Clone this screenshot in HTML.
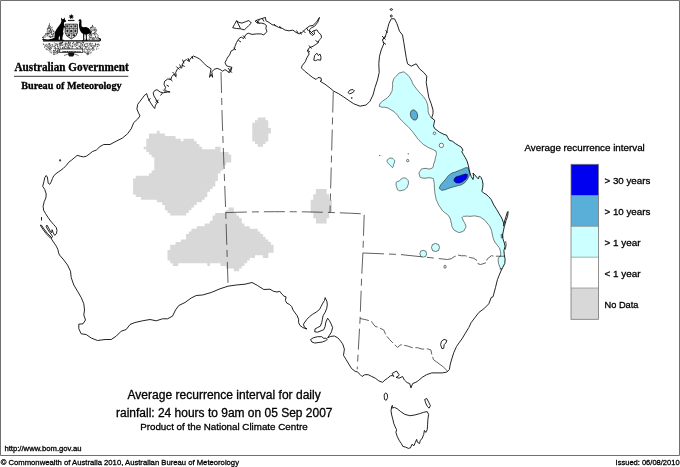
<!DOCTYPE html>
<html><head><meta charset="utf-8"><title>Average recurrence interval for daily rainfall</title>
<style>
html,body{margin:0;padding:0;background:#fff;}
body{width:680px;height:467px;overflow:hidden;position:relative;font-family:"Liberation Sans",Arial,sans-serif;color:#000;}
svg{position:absolute;left:0;top:0;}
text{font-family:"Liberation Sans",Arial,sans-serif;fill:#000;stroke:#000;stroke-width:0.3;}
.serif{font-family:"Liberation Serif","Times New Roman",serif;font-weight:bold;}
.coast{fill:none;stroke:#0a0a0a;stroke-width:0.9;stroke-linejoin:round;}
.isl{fill:#fff;stroke:#0a0a0a;stroke-width:0.9;stroke-linejoin:round;}
.bord{fill:none;stroke:#383838;stroke-width:0.8;}
.cy{fill:#ccffff;stroke:#222;stroke-width:0.6;}
</style></head><body>
<svg width="680" height="467" viewBox="0 0 680 467">

<defs><clipPath id="land"><path d="M46.2,175.5 L47.3,177.0 L47.8,180.1 L48.2,183.2 L49.8,184.3 L51.3,181.7 L52.4,178.6 L53.9,175.5 L57.0,172.9 L60.1,170.8 L63.2,168.5 L66.3,165.4 L68.6,162.4 L71.7,160.0 L74.8,157.4 L77.1,155.4 L80.2,156.2 L83.3,156.9 L86.4,156.2 L89.5,153.9 L92.5,151.5 L96.4,150.0 L100.0,146.5 L103.8,144.5 L110.0,144.5 L116.2,141.2 L122.5,138.0 L127.5,133.8 L131.2,128.8 L133.8,122.5 L137.7,119.0 L140.0,115.9 L138.5,112.9 L136.9,109.0 L137.7,104.4 L140.0,101.3 L142.4,98.2 L144.7,95.1 L146.7,93.6 L147.8,97.4 L150.1,102.0 L153.2,106.7 L154.7,108.5 L155.5,105.1 L157.8,102.0 L156.3,99.7 L153.9,95.9 L153.2,92.8 L154.7,90.5 L157.0,89.7 L160.1,92.0 L163.2,92.8 L167.1,92.0 L170.1,92.0 L167.1,91.3 L164.7,89.7 L165.5,87.4 L164.0,84.3 L164.7,81.2 L167.8,78.9 L170.9,79.7 L171.7,76.6 L174.0,74.3 L176.3,75.8 L175.6,72.7 L177.1,69.6 L179.4,67.3 L181.7,68.1 L182.5,64.2 L184.0,61.1 L186.4,59.6 L188.7,61.1 L191.0,58.0 L193.3,56.0 L196.4,57.3 L199.5,58.8 L201.8,61.1 L204.1,63.4 L206.4,65.8 L208.8,67.3 L211.1,68.8 L210.3,72.7 L209.5,77.3 L211.1,74.3 L212.6,77.3 L211.8,71.9 L214.2,69.3 L217.2,68.4 L220.3,69.6 L222.6,71.2 L225.0,69.6 L227.3,71.2 L229.6,72.7 L231.1,70.4 L231.9,67.3 L228.8,66.5 L226.5,65.8 L225.0,62.7 L226.5,59.6 L227.3,57.9 L229.6,54.8 L231.2,50.9 L234.3,49.4 L235.0,46.3 L236.6,42.4 L238.9,38.6 L241.2,37.0 L243.5,38.6 L245.8,34.7 L248.2,33.2 L252.0,34.4 L256.7,33.9 L261.3,33.9 L263.6,35.0 L265.5,32.9 L267.0,31.6 L265.9,28.5 L266.4,25.4 L264.4,23.9 L261.3,23.1 L257.4,23.1 L255.1,21.1 L258.2,19.6 L262.1,18.5 L265.5,17.4 L265.9,20.8 L269.0,22.4 L272.1,24.7 L275.2,25.4 L278.3,27.3 L282.1,28.2 L285.2,30.1 L289.1,30.8 L292.9,30.1 L296.0,32.4 L299.1,33.9 L302.2,32.4 L305.3,29.3 L309.2,26.2 L313.0,25.4 L316.9,21.6 L319.5,17.4 L317.7,22.4 L314.6,26.2 L311.5,27.8 L309.2,30.1 L309.9,33.2 L312.2,35.5 L314.6,33.9 L313.8,30.8 L316.9,29.8 L318.4,32.4 L321.0,34.7 L321.5,37.8 L319.2,40.1 L317.7,43.2 L315.3,44.7 L313.0,46.3 L309.2,47.8 L307.6,50.9 L309.2,54.0 L306.8,57.9 L305.3,61.7 L302.2,65.6 L301.4,67.9 L304.5,71.0 L308.4,74.1 L312.2,77.2 L316.1,79.5 L318.0,77.5 L321.0,78.0 L321.5,80.5 L320.0,81.2 L325.0,84.2 L330.0,88.0 L333.8,91.2 L338.8,93.8 L343.8,97.0 L348.8,100.5 L353.8,103.8 L360.0,106.2 L366.2,105.0 L370.0,101.2 L373.0,95.0 L375.0,87.5 L377.5,80.0 L379.2,72.5 L378.8,63.8 L379.5,56.2 L381.2,50.0 L383.8,43.8 L382.5,40.0 L385.0,37.5 L387.0,31.2 L388.8,23.8 L391.2,18.8 L394.5,18.8 L397.0,23.8 L399.5,31.2 L402.5,35.0 L403.8,42.5 L405.0,50.0 L406.2,57.5 L407.5,63.8 L411.2,66.2 L416.2,63.8 L419.5,68.8 L423.8,72.5 L426.8,76.2 L426.2,82.5 L427.5,90.0 L428.8,97.5 L431.2,103.8 L433.0,110.0 L433.0,113.8 L431.8,117.4 L433.0,119.1 L434.7,120.3 L434.1,123.3 L433.5,125.9 L434.7,128.6 L437.1,130.3 L439.4,132.1 L441.8,133.3 L444.1,134.5 L446.5,135.0 L447.7,137.4 L449.4,140.3 L452.4,141.2 L455.3,143.5 L458.2,145.3 L461.2,147.1 L463.0,150.0 L461.8,151.8 L463.5,154.7 L465.3,157.7 L467.1,161.2 L468.3,165.3 L469.1,169.4 L470.0,173.0 L471.2,176.5 L473.0,179.5 L473.6,176.5 L473.0,173.0 L474.7,174.7 L476.5,177.1 L478.3,178.9 L479.4,175.9 L481.2,177.7 L482.4,180.6 L483.0,184.2 L482.7,187.7 L481.8,191.2 L483.6,193.0 L485.9,194.2 L488.5,196.5 L491.2,199.5 L493.8,205.0 L496.6,209.4 L499.1,213.7 L501.7,218.0 L503.4,222.3 L504.3,226.6 L503.4,230.9 L502.6,235.1 L502.9,238.6 L504.3,242.9 L505.1,246.3 L503.9,250.6 L504.3,254.9 L505.1,259.1 L504.8,263.4 L502.6,267.7 L500.9,271.1 L499.1,275.4 L497.4,279.7 L495.5,287.5 L493.0,296.8 L491.2,297.5 L488.8,303.8 L483.8,308.8 L478.8,312.5 L475.0,317.5 L471.2,322.5 L468.8,327.5 L465.0,333.8 L462.0,338.8 L459.6,342.1 L456.5,346.5 L453.8,352.6 L452.1,357.9 L450.3,364.1 L449.4,369.4 L446.8,372.1 L442.4,372.9 L437.1,372.9 L431.8,372.9 L426.5,374.7 L422.1,377.4 L418.5,380.5 L415.9,382.3 L412.7,383.5 L410.9,387.9 L409.7,383.5 L407.1,382.6 L404.4,380.0 L402.6,376.5 L399.1,378.2 L396.1,377.4 L398.9,375.5 L399.1,374.7 L396.5,371.0 L392.1,373.5 L393.8,376.5 L392.3,375.5 L390.3,375.9 L387.6,378.2 L385.0,380.0 L382.4,382.3 L378.8,380.9 L375.3,378.2 L371.8,376.5 L368.2,374.7 L364.7,374.7 L362.1,376.5 L360.3,374.7 L357.6,372.1 L355.0,371.2 L351.5,368.5 L348.8,364.1 L346.2,359.7 L343.5,355.3 L344.4,349.1 L342.6,343.8 L341.9,343.0 L340.5,340.9 L337.8,337.8 L334.3,336.0 L330.8,336.4 L327.6,337.8 L329.4,335.3 L331.5,331.8 L332.6,327.6 L331.2,324.1 L329.4,320.6 L327.6,318.2 L325.9,322.0 L325.2,326.2 L323.8,329.7 L321.0,330.8 L317.5,332.2 L314.7,331.8 L315.0,329.0 L317.5,327.6 L320.3,326.2 L321.7,322.7 L322.4,319.2 L323.1,315.7 L325.2,312.2 L326.6,308.7 L327.3,305.2 L327.0,301.7 L325.2,297.6 L324.5,300.4 L322.8,303.1 L321.0,306.6 L319.6,309.4 L316.1,312.2 L312.6,314.3 L309.8,316.4 L307.0,319.2 L304.9,322.0 L303.5,324.1 L304.2,326.9 L307.0,329.0 L302.8,327.6 L300.0,325.5 L298.6,322.7 L298.6,319.2 L297.2,315.7 L295.1,312.9 L293.1,310.1 L291.7,306.6 L289.6,304.5 L286.8,303.1 L285.4,300.4 L286.1,296.9 L284.0,296.2 L281.9,294.1 L279.8,291.3 L277.0,292.0 L273.5,291.3 L270.0,289.2 L263.8,289.5 L257.5,285.5 L252.0,282.5 L245.0,284.2 L236.2,285.0 L228.0,286.2 L220.0,288.8 L211.2,292.5 L202.5,295.0 L196.2,295.5 L191.2,298.0 L185.0,302.5 L178.8,305.5 L175.5,310.0 L172.5,316.2 L167.5,318.8 L162.5,318.8 L156.2,320.8 L150.0,319.5 L142.5,320.8 L135.0,322.5 L130.0,324.5 L126.2,329.5 L121.2,331.2 L116.2,336.2 L111.2,339.5 L105.0,339.5 L97.5,340.5 L91.2,338.0 L86.2,334.5 L81.2,333.8 L78.8,328.8 L78.8,324.2 L83.0,323.8 L85.5,320.0 L83.8,315.0 L84.5,310.0 L83.8,303.8 L81.2,297.5 L77.5,291.2 L73.8,285.0 L71.2,277.5 L70.5,271.2 L67.5,265.0 L63.8,260.0 L59.5,255.0 L58.6,252.9 L57.8,249.3 L56.3,246.2 L54.2,243.1 L52.1,240.0 L51.1,237.9 L52.6,236.9 L51.6,234.9 L49.6,232.3 L47.5,229.2 L46.0,226.1 L47.0,225.1 L49.0,228.7 L50.6,231.8 L51.6,232.8 L52.1,229.7 L53.2,232.8 L54.7,235.4 L56.3,233.8 L57.0,230.7 L56.3,227.6 L53.7,224.6 L50.6,221.0 L48.0,217.4 L45.4,213.3 L43.6,210.2 L43.1,206.4 L44.2,201.7 L45.9,197.9 L46.2,194.0 L44.7,189.4 L42.7,186.3 L43.9,181.7 L44.7,177.8Z"/></clipPath><filter id="jag" x="120" y="5" width="330" height="130" filterUnits="userSpaceOnUse"><feTurbulence type="fractalNoise" baseFrequency="0.5" numOctaves="2" seed="5" result="n"/><feDisplacementMap in="SourceGraphic" in2="n" scale="2.6" xChannelSelector="R" yChannelSelector="G"/></filter></defs>
<rect x="0" y="0" width="680" height="467" fill="#fff"/>
<g fill="#d8d8d8">
<path d="M146.3,144.0 L146.3,144.0 L146.3,146.7 L143.7,146.7 L143.7,149.3 L146.3,149.3 L146.3,152.0 L149.0,152.0 L149.0,154.6 L151.6,154.6 L151.6,157.3 L154.3,157.3 L154.3,159.9 L154.3,159.9 L154.3,162.6 L154.3,162.6 L154.3,165.2 L154.3,165.2 L154.3,167.8 L154.3,167.9 L154.3,170.5 L151.6,170.5 L151.6,173.2 L149.0,173.2 L149.0,175.8 L146.4,175.8 L146.3,175.8 L143.7,175.8 L143.7,175.8 L141.1,175.8 L141.0,175.8 L138.4,175.8 L138.4,175.8 L135.8,175.8 L135.8,178.4 L133.1,178.4 L133.1,181.1 L133.1,181.1 L133.1,183.8 L133.1,183.8 L133.1,186.4 L133.1,186.4 L133.1,189.1 L133.1,189.1 L133.1,191.7 L133.1,191.7 L133.1,194.4 L135.8,194.4 L135.8,197.0 L138.4,197.0 L138.4,197.0 L141.0,197.0 L141.0,199.7 L143.7,199.7 L143.7,199.7 L146.3,199.7 L146.4,199.7 L149.0,199.7 L149.0,199.7 L151.6,199.7 L151.7,199.7 L154.3,199.7 L154.3,199.7 L156.9,199.7 L156.9,202.3 L159.6,202.3 L159.6,202.3 L162.2,202.3 L162.2,205.0 L164.9,205.0 L164.9,207.6 L164.9,207.6 L164.9,210.3 L167.5,210.3 L167.5,212.9 L170.2,212.9 L170.2,215.6 L172.8,215.6 L172.9,215.6 L175.5,215.6 L175.5,215.6 L178.1,215.6 L178.2,215.6 L180.8,215.6 L180.8,215.6 L183.4,215.6 L183.5,215.6 L186.1,215.6 L186.1,212.9 L188.8,212.9 L188.8,210.3 L191.4,210.3 L191.4,207.6 L194.1,207.6 L194.1,205.0 L196.7,205.0 L196.7,202.3 L199.3,202.3 L199.4,202.3 L202.0,202.3 L202.0,199.7 L204.7,199.7 L204.7,197.0 L207.3,197.0 L207.3,194.4 L207.3,194.3 L207.3,191.7 L210.0,191.7 L210.0,189.1 L212.6,189.1 L212.6,186.4 L215.3,186.4 L215.3,183.8 L215.3,183.8 L215.3,181.1 L217.9,181.1 L217.9,178.5 L217.9,178.4 L217.9,175.8 L217.9,175.8 L217.9,173.2 L220.6,173.2 L220.6,170.5 L223.2,170.5 L223.2,167.9 L223.2,167.8 L223.2,165.2 L225.9,165.2 L225.9,162.6 L228.5,162.6 L228.5,162.6 L231.2,162.6 L231.2,159.9 L231.2,159.9 L231.2,157.3 L231.2,157.2 L231.2,154.6 L228.5,154.6 L228.5,151.9 L225.9,151.9 L225.8,151.9 L223.2,151.9 L223.2,151.9 L220.6,151.9 L220.6,149.3 L220.6,149.3 L220.6,146.7 L217.9,146.7 L217.9,146.7 L215.2,146.7 L215.2,149.3 L212.6,149.3 L212.6,149.3 L210.0,149.3 L209.9,149.3 L207.3,149.3 L207.3,149.3 L204.7,149.3 L204.6,149.3 L202.0,149.3 L202.0,146.7 L199.4,146.7 L199.4,144.0 L196.7,144.0 L196.7,141.3 L194.1,141.3 L194.1,138.7 L191.4,138.7 L191.4,138.7 L188.8,138.7 L188.8,138.7 L186.1,138.7 L186.1,138.7 L183.4,138.7 L183.4,141.3 L180.8,141.3 L180.8,138.7 L178.2,138.7 L178.1,138.7 L175.5,138.7 L175.5,136.1 L172.9,136.1 L172.8,136.1 L170.2,136.1 L170.2,136.1 L167.6,136.1 L167.5,136.1 L164.9,136.1 L164.9,133.4 L162.3,133.4 L162.2,133.4 L159.6,133.4 L159.6,130.8 L156.9,130.8 L156.9,133.4 L154.3,133.4 L154.3,133.4 L151.7,133.4 L151.6,133.4 L149.0,133.4 L149.0,136.1 L149.0,136.1 L149.0,138.7 L146.3,138.7 L146.3,141.3 L146.3,141.4Z"/>
<path d="M180.8,242.1 L178.2,242.1 L178.1,242.1 L175.5,242.1 L175.5,244.7 L172.9,244.7 L172.8,244.7 L170.2,244.7 L170.2,247.3 L170.2,247.4 L170.2,250.0 L167.5,250.0 L167.5,252.7 L167.5,252.7 L167.5,255.3 L167.5,255.3 L167.5,257.9 L167.5,258.0 L167.5,260.6 L170.2,260.6 L170.2,263.3 L172.8,263.3 L172.8,265.9 L175.5,265.9 L175.5,265.9 L178.2,265.9 L178.2,263.3 L180.8,263.3 L180.8,263.3 L183.4,263.3 L183.5,263.3 L186.1,263.3 L186.1,263.3 L188.8,263.3 L188.8,263.3 L191.4,263.3 L191.4,263.3 L194.0,263.3 L194.1,263.3 L196.7,263.3 L196.7,263.3 L199.3,263.3 L199.4,263.3 L202.0,263.3 L202.0,263.3 L204.6,263.3 L204.7,263.3 L207.3,263.3 L207.3,265.9 L210.0,265.9 L210.0,263.3 L212.6,263.3 L212.6,263.3 L215.2,263.3 L215.3,263.3 L217.9,263.3 L217.9,263.3 L220.5,263.3 L220.5,265.9 L223.2,265.9 L223.2,265.9 L225.8,265.9 L225.8,268.6 L228.5,268.6 L228.5,268.6 L231.1,268.6 L231.2,268.6 L233.8,268.6 L233.8,271.2 L236.4,271.2 L236.5,271.2 L239.1,271.2 L239.1,268.6 L241.8,268.6 L241.8,265.9 L244.4,265.9 L244.4,263.3 L247.1,263.3 L247.1,260.6 L249.7,260.6 L249.7,258.0 L252.3,258.0 L252.4,258.0 L255.0,258.0 L255.0,255.3 L257.7,255.3 L257.7,255.3 L260.3,255.3 L260.3,255.3 L262.9,255.3 L262.9,258.0 L265.6,258.0 L265.6,258.0 L268.3,258.0 L268.3,255.3 L268.3,255.3 L268.3,252.7 L270.9,252.7 L270.9,252.7 L273.6,252.7 L273.6,250.0 L273.6,250.0 L273.6,247.4 L273.6,247.3 L273.6,244.7 L270.9,244.7 L270.9,242.1 L268.3,242.1 L268.3,239.4 L265.6,239.4 L265.6,236.8 L263.0,236.8 L263.0,234.1 L260.3,234.1 L260.3,231.4 L257.7,231.4 L257.7,228.8 L255.0,228.8 L255.0,228.8 L252.4,228.8 L252.3,228.8 L249.7,228.8 L249.7,226.2 L247.1,226.2 L247.0,226.2 L244.4,226.2 L244.4,223.5 L241.8,223.5 L241.8,220.9 L241.8,220.8 L241.8,218.2 L239.1,218.2 L239.1,215.6 L236.5,215.6 L236.5,212.9 L233.8,212.9 L233.8,210.3 L233.8,210.2 L233.8,207.6 L231.2,207.6 L231.1,207.6 L228.5,207.6 L228.5,210.2 L225.8,210.2 L225.8,212.9 L223.2,212.9 L223.2,212.9 L220.6,212.9 L220.5,212.9 L217.9,212.9 L217.9,212.9 L215.2,212.9 L215.2,215.6 L212.6,215.6 L212.6,218.2 L212.6,218.2 L212.6,220.8 L209.9,220.8 L209.9,223.5 L207.3,223.5 L207.3,223.5 L204.6,223.5 L204.6,226.2 L202.0,226.2 L202.0,226.2 L199.4,226.2 L199.3,226.2 L196.7,226.2 L196.7,228.8 L194.1,228.8 L194.0,228.8 L191.4,228.8 L191.4,231.4 L188.8,231.4 L188.8,234.1 L186.1,234.1 L186.1,236.8 L186.1,236.8 L186.1,239.4 L183.5,239.4 L183.4,239.4 L180.8,239.4Z"/>
<path d="M255.0,120.2 L255.0,122.8 L252.3,122.8 L252.3,125.5 L252.3,125.5 L252.3,128.1 L252.3,128.1 L252.3,130.8 L252.3,130.8 L252.3,133.4 L252.3,133.4 L252.3,136.1 L252.3,136.1 L252.3,138.7 L252.3,138.7 L252.3,141.4 L255.0,141.4 L255.0,144.0 L257.7,144.0 L257.7,146.7 L260.3,146.7 L260.3,146.7 L263.0,146.7 L263.0,144.0 L265.6,144.0 L265.6,141.4 L268.3,141.4 L268.3,138.7 L268.3,138.7 L268.3,136.1 L268.3,136.1 L268.3,133.4 L270.9,133.4 L270.9,130.8 L270.9,130.8 L270.9,128.1 L268.3,128.1 L268.3,125.5 L268.3,125.5 L268.3,122.8 L268.3,122.8 L268.3,120.2 L265.6,120.2 L265.6,117.5 L263.0,117.5 L262.9,117.5 L260.3,117.5 L260.3,117.5 L257.7,117.5 L257.7,120.2Z"/>
<path d="M313.3,194.3 L313.3,197.0 L313.3,197.0 L313.3,199.7 L310.7,199.7 L310.7,202.3 L310.7,202.3 L310.7,204.9 L310.7,205.0 L310.7,207.6 L310.7,207.6 L310.7,210.2 L310.7,210.3 L310.7,212.9 L313.3,212.9 L313.3,215.6 L313.3,215.6 L313.3,218.2 L315.9,218.2 L315.9,220.8 L315.9,220.9 L315.9,223.5 L318.6,223.5 L318.6,223.5 L321.2,223.5 L321.3,223.5 L323.9,223.5 L323.9,223.5 L326.6,223.5 L326.6,220.9 L326.6,220.8 L326.6,218.2 L329.2,218.2 L329.2,215.6 L329.2,215.6 L329.2,212.9 L331.9,212.9 L331.9,210.3 L331.9,210.2 L331.9,207.6 L331.9,207.6 L331.9,205.0 L331.9,204.9 L331.9,202.3 L331.9,202.3 L331.9,199.7 L329.2,199.7 L329.2,197.0 L329.2,197.0 L329.2,194.3 L326.6,194.3 L326.6,191.7 L326.6,191.7 L326.6,189.1 L323.9,189.1 L323.9,189.1 L321.3,189.1 L321.2,189.1 L318.6,189.1 L318.6,189.1 L315.9,189.1 L315.9,191.7 L315.9,191.7 L315.9,194.3Z"/>
</g>
<g clip-path="url(#land)"><path class="cy" d="M401.2,72.5 C397.9,73.3 399.0,73.3 396.2,76.2 C393.5,79.2 394.2,77.5 393.0,81.2 C391.8,85.0 393.1,83.8 392.5,87.5 C391.9,91.2 392.9,89.2 391.2,92.5 C389.6,95.8 390.4,94.6 387.5,97.5 C384.6,100.4 385.2,98.8 382.5,101.2 C379.8,103.8 379.9,103.1 379.5,105.0 C379.1,106.9 379.0,106.2 381.2,107.0 C383.5,107.8 382.9,106.5 386.2,107.5 C389.6,108.5 387.9,107.9 391.2,110.0 C394.6,112.1 393.3,110.8 396.2,113.8 C399.2,116.7 397.1,115.4 400.0,118.8 C402.9,122.1 401.7,120.4 405.0,123.8 C408.3,127.1 406.7,125.0 410.0,128.8 C413.3,132.5 411.7,130.8 415.0,135.0 C418.3,139.2 416.2,137.5 420.0,141.2 C423.8,145.0 421.7,143.3 426.2,146.2 C430.8,149.2 430.4,147.9 433.8,150.0 C437.1,152.1 435.7,150.0 436.2,152.5 C436.8,155.0 436.3,153.8 435.5,157.5 C434.7,161.2 435.2,160.1 433.8,163.8 C432.3,167.4 434.6,166.9 431.2,168.5 C427.9,170.1 427.5,167.6 423.8,168.5 C420.0,169.4 421.4,169.1 420.0,171.2 C418.6,173.4 418.7,172.8 419.5,175.0 C420.3,177.2 418.6,177.0 422.5,178.0 C426.4,179.0 427.5,176.9 431.2,178.0 C435.0,179.1 432.7,177.7 433.8,181.2 C434.8,184.8 433.9,183.8 434.5,188.8 C435.1,193.8 434.5,191.7 435.5,196.2 C436.5,200.8 435.6,198.3 437.5,202.5 C439.4,206.7 439.2,205.7 441.2,208.8 C443.3,211.8 441.2,209.2 443.8,211.8 C446.2,214.2 446.2,212.7 448.8,216.2 C451.2,219.8 450.0,218.8 451.2,222.5 C452.5,226.2 450.8,224.6 452.5,227.5 C454.2,230.4 453.3,229.8 456.2,231.2 C459.2,232.8 458.3,232.8 461.2,232.0 C464.2,231.2 463.6,231.1 465.0,228.8 C466.4,226.4 466.2,227.9 465.5,225.0 C464.8,222.1 464.0,222.7 463.0,220.0 C462.0,217.3 461.4,218.2 462.5,217.0 C463.6,215.8 463.8,216.5 466.2,216.2 C468.8,216.0 466.4,216.3 470.0,216.3 C473.6,216.3 472.6,215.4 476.9,216.3 C481.2,217.2 479.5,216.6 482.9,218.9 C486.3,221.2 484.5,220.0 487.1,223.1 C489.7,226.2 488.9,224.6 490.6,228.3 C492.3,232.0 491.2,230.3 492.3,234.3 C493.4,238.3 492.3,236.6 494.0,240.3 C495.7,244.0 495.4,242.3 497.4,245.4 C499.4,248.5 499.0,246.3 500.0,249.7 C501.0,253.1 500.9,253.1 500.5,255.7 C500.1,258.3 499.5,255.4 498.8,257.4 C498.1,259.4 498.1,258.8 498.3,261.7 C498.5,264.6 498.6,263.7 499.5,266.0 C500.4,268.3 499.7,267.8 500.9,268.6 C502.1,269.4 496.6,269.2 503.0,268.3 C509.4,267.4 514.3,322.1 520.0,266.0 C525.7,209.9 544.7,154.0 520.0,100.0 C495.3,46.0 473.3,100.0 446.0,104.0 C418.7,108.0 442.2,107.6 438.0,112.0 C433.8,116.4 435.6,115.2 433.5,117.2 C431.4,119.2 432.6,118.1 431.6,118.0 C430.6,117.9 431.6,118.6 430.6,116.8 C429.6,115.0 429.4,115.6 428.5,112.7 C427.6,109.8 428.5,111.2 428.0,108.0 C427.5,104.8 428.2,106.4 427.1,103.2 C426.0,100.0 426.5,101.2 424.7,98.5 C422.9,95.8 423.4,96.8 421.8,95.0 C420.2,93.2 421.9,95.2 420.0,93.0 C418.1,90.8 418.6,91.5 416.2,88.5 C413.9,85.5 414.7,86.8 413.0,84.0 C411.3,81.2 413.5,83.4 411.2,80.0 C409.0,76.6 409.6,76.2 406.2,73.8 C402.9,71.2 404.6,71.7 401.2,72.5Z"/></g>
<path class="cy" d="M387.1,160.6 C387.4,159.5 387.3,159.7 388.6,158.9 C389.9,158.1 389.4,158.0 391.1,158.1 C392.8,158.2 392.4,158.1 393.6,159.3 C394.8,160.5 394.6,159.8 394.6,161.6 C394.6,163.4 394.2,162.7 393.6,164.6 C393.0,166.5 393.7,166.8 392.9,167.3 C392.1,167.8 392.4,167.2 391.1,166.1 C389.8,165.0 390.1,165.4 388.9,164.1 C387.7,162.8 388.2,163.5 387.6,162.3 C387.0,161.1 386.8,161.7 387.1,160.6Z"/>
<path class="cy" d="M396.1,183.7 C396.2,181.7 395.9,182.7 397.1,181.7 C398.3,180.7 398.1,181.7 399.6,180.7 C401.1,179.7 400.0,179.6 401.7,178.7 C403.4,177.8 402.9,177.8 404.7,178.0 C406.5,178.2 406.0,178.0 407.2,179.4 C408.4,180.8 408.2,180.1 408.4,182.2 C408.6,184.3 408.6,183.5 407.7,185.7 C406.8,187.9 407.5,187.2 405.7,188.7 C403.9,190.2 404.6,189.8 402.2,190.3 C399.8,190.8 400.4,191.2 398.6,190.3 C396.8,189.4 397.7,189.9 396.9,187.7 C396.1,185.5 396.0,185.7 396.1,183.7Z"/>
<circle class="cy" cx="407.7" cy="160.6" r="1.2"/>
<circle class="cy" cx="435.5" cy="247.5" r="4"/>
<circle class="cy" cx="423.25" cy="253.75" r="3.4"/>
<ellipse class="cy" cx="445" cy="266.75" rx="1.1" ry="1.6"/>
<circle cx="434.5" cy="133.3" r="1.3" fill="#fff" stroke="#222" stroke-width="0.6"/>
<circle cx="441.4" cy="145.4" r="2.2" fill="#fff" stroke="#222" stroke-width="0.6"/>
<ellipse cx="414" cy="115" rx="3.5" ry="5.2" fill="#5aafd8" stroke="#222" stroke-width="0.6" transform="rotate(-15 414 115)"/>
<path d="M440.0,186.2 C441.4,183.1 441.7,183.9 445.0,180.0 C448.3,176.1 446.4,177.1 450.0,174.4 C453.6,171.7 452.0,173.5 455.9,171.8 C459.8,170.1 458.1,170.8 461.8,169.4 C465.5,168.0 464.8,167.5 467.1,167.7 C469.4,167.9 468.0,167.8 468.8,170.0 C469.6,172.2 469.6,171.6 469.4,174.2 C469.2,176.8 469.5,175.4 468.3,177.7 C467.1,180.0 467.9,179.0 465.9,181.2 C463.9,183.4 465.3,182.6 462.4,184.2 C459.5,185.8 461.2,184.7 457.1,185.9 C453.0,187.1 454.4,186.5 450.0,187.9 C445.6,189.3 446.8,189.5 443.8,190.0 C440.7,190.5 442.0,190.8 440.8,189.5 C439.5,188.2 438.6,189.4 440.0,186.2Z" fill="#5aafd8" stroke="#222" stroke-width="0.6"/>
<path d="M454.1,179.5 C454.7,178.3 454.1,178.3 455.9,177.1 C457.7,175.9 457.0,176.7 459.4,175.9 C461.8,175.1 460.6,175.3 463.0,174.7 C465.4,174.1 465.0,174.0 466.5,174.2 C468.0,174.4 467.4,173.9 467.4,175.3 C467.4,176.7 467.6,176.5 466.5,178.3 C465.4,180.1 465.9,179.2 464.1,180.6 C462.3,182.0 463.3,181.6 461.2,182.4 C459.1,183.2 459.7,183.1 457.7,183.0 C455.7,182.9 456.5,183.0 455.3,182.2 C454.1,181.4 454.5,181.5 454.1,180.6 C453.7,179.7 453.5,180.7 454.1,179.5Z" fill="#0000f0" stroke="#111" stroke-width="0.6"/>
<path d="M501,234.3 L502.7,234.3 L502.9,238 L501.2,238 Z" fill="#5aafd8" stroke="#222" stroke-width="0.4"/>
<path d="M500,256.2 H504.5" stroke="#222" stroke-width="0.7" fill="none"/>
<path d="M505.6,241.1 L506.2,245 L505.2,249.7" stroke="#111" stroke-width="0.7" fill="none"/>
<g class="bord" stroke-dasharray="21 5 7 5">
<path d="M221,72 L222.2,119 L223.75,160 L225.75,212.5 L228.1,286.4"/>
<path d="M333.3,91.5 L330,212.5"/>
<path d="M225.75,212.6 Q295,210.3 362,213.8"/>
<path d="M364.2,214.8 L362.9,253 L361.6,278 L360.1,318.5 L357.2,369.4"/>
<path d="M363,253 L400,254.5 L447.5,259.5"/>
</g>
<g class="bord" stroke-dasharray="9 2.5">
<path d="M447.5,259.5 L451.25,258.75 L453.75,257 L458,255 L461.25,255.75 L465.5,255.75 L470,257.5 L473.75,258.25 L477,260.5 L478,263.75 L480.5,264.5 L482.9,263.8 L486.3,262.6 L487.1,259.1 L491.4,255.7 L494,256.2 L500,256.2"/>
<path d="M360.1,318.5 L365,319.5 L371.25,321.25 L375,326.25 L378.75,327.5 L383.75,330 L385.9,335 L389.4,339.4 L392.9,342.9 L397.4,347.4 L400.9,344.7 L407.1,345.9 L412.4,347.7 L417.6,347.7 L422.1,349.1 L427.4,348.8 L430.9,350 L431.8,354.4 L433.5,359.7"/>
</g>
<path class="bord" d="M433.5,359.7 L443.2,366.8 L447.6,371.2"/>
<path class="coast" d="M333.8,91.2 L338.8,93.8 L343.8,97.0 L348.8,100.5 L353.8,103.8 L360.0,106.2 L366.2,105.0 L370.0,101.2 L373.0,95.0 L375.0,87.5 L377.5,80.0 L379.2,72.5 L378.8,63.8 L379.5,56.2 L381.2,50.0 L383.8,43.8 L382.5,40.0 L385.0,37.5 L387.0,31.2 L388.8,23.8 L391.2,18.8 L394.5,18.8 L397.0,23.8 L399.5,31.2 L402.5,35.0 L403.8,42.5 L405.0,50.0 L406.2,57.5 L407.5,63.8 L411.2,66.2 L416.2,63.8 L419.5,68.8 L423.8,72.5 L426.8,76.2 L426.2,82.5 L427.5,90.0 L428.8,97.5 L431.2,103.8 L433.0,110.0 L433.0,113.8 L431.8,117.4 L433.0,119.1 L434.7,120.3 L434.1,123.3 L433.5,125.9 L434.7,128.6 L437.1,130.3 L439.4,132.1 L441.8,133.3 L444.1,134.5 L446.5,135.0 L447.7,137.4 L449.4,140.3 L452.4,141.2 L455.3,143.5 L458.2,145.3 L461.2,147.1 L463.0,150.0 L461.8,151.8 L463.5,154.7 L465.3,157.7 L467.1,161.2 L468.3,165.3 L469.1,169.4 L470.0,173.0 L471.2,176.5 L473.0,179.5 L473.6,176.5 L473.0,173.0 L474.7,174.7 L476.5,177.1 L478.3,178.9 L479.4,175.9 L481.2,177.7 L482.4,180.6 L483.0,184.2 L482.7,187.7 L481.8,191.2 L483.6,193.0 L485.9,194.2 L488.5,196.5 L491.2,199.5 L493.8,205.0 L496.6,209.4 L499.1,213.7 L501.7,218.0 L503.4,222.3 L504.3,226.6 L503.4,230.9 L502.6,235.1 L502.9,238.6 L504.3,242.9 L505.1,246.3 L503.9,250.6 L504.3,254.9 L505.1,259.1 L504.8,263.4 L502.6,267.7 L500.9,271.1 L499.1,275.4 L497.4,279.7 L495.5,287.5 L493.0,296.8 L491.2,297.5 L488.8,303.8 L483.8,308.8 L478.8,312.5 L475.0,317.5 L471.2,322.5 L468.8,327.5 L465.0,333.8 L462.0,338.8 L459.6,342.1 L456.5,346.5 L453.8,352.6 L452.1,357.9 L450.3,364.1 L449.4,369.4 L446.8,372.1 L442.4,372.9 L437.1,372.9 L431.8,372.9 L426.5,374.7 L422.1,377.4 L418.5,380.5 L415.9,382.3 L412.7,383.5 L410.9,387.9 L409.7,383.5 L407.1,382.6 L404.4,380.0 L402.6,376.5 L399.1,378.2 L396.1,377.4 L398.9,375.5 L399.1,374.7 L396.5,371.0 L392.1,373.5 L393.8,376.5 L392.3,375.5 L390.3,375.9 L387.6,378.2 L385.0,380.0 L382.4,382.3 L378.8,380.9 L375.3,378.2 L371.8,376.5 L368.2,374.7 L364.7,374.7 L362.1,376.5 L360.3,374.7 L357.6,372.1 L355.0,371.2 L351.5,368.5 L348.8,364.1 L346.2,359.7 L343.5,355.3 L344.4,349.1 L342.6,343.8 L341.9,343.0 L340.5,340.9 L337.8,337.8 L334.3,336.0 L330.8,336.4 L327.6,337.8 L329.4,335.3 L331.5,331.8 L332.6,327.6 L331.2,324.1 L329.4,320.6 L327.6,318.2 L325.9,322.0 L325.2,326.2 L323.8,329.7 L321.0,330.8 L317.5,332.2 L314.7,331.8 L315.0,329.0 L317.5,327.6 L320.3,326.2 L321.7,322.7 L322.4,319.2 L323.1,315.7 L325.2,312.2 L326.6,308.7 L327.3,305.2 L327.0,301.7 L325.2,297.6 L324.5,300.4 L322.8,303.1 L321.0,306.6 L319.6,309.4 L316.1,312.2 L312.6,314.3 L309.8,316.4 L307.0,319.2 L304.9,322.0 L303.5,324.1 L304.2,326.9 L307.0,329.0 L302.8,327.6 L300.0,325.5 L298.6,322.7 L298.6,319.2 L297.2,315.7 L295.1,312.9 L293.1,310.1 L291.7,306.6 L289.6,304.5 L286.8,303.1 L285.4,300.4 L286.1,296.9 L284.0,296.2 L281.9,294.1 L279.8,291.3 L277.0,292.0 L273.5,291.3 L270.0,289.2 L263.8,289.5 L257.5,285.5 L252.0,282.5 L245.0,284.2 L236.2,285.0 L228.0,286.2 L220.0,288.8 L211.2,292.5 L202.5,295.0 L196.2,295.5 L191.2,298.0 L185.0,302.5 L178.8,305.5 L175.5,310.0 L172.5,316.2 L167.5,318.8 L162.5,318.8 L156.2,320.8 L150.0,319.5 L142.5,320.8 L135.0,322.5 L130.0,324.5 L126.2,329.5 L121.2,331.2 L116.2,336.2 L111.2,339.5 L105.0,339.5 L97.5,340.5 L91.2,338.0 L86.2,334.5 L81.2,333.8 L78.8,328.8 L78.8,324.2 L83.0,323.8 L85.5,320.0 L83.8,315.0 L84.5,310.0 L83.8,303.8 L81.2,297.5 L77.5,291.2 L73.8,285.0 L71.2,277.5 L70.5,271.2 L67.5,265.0 L63.8,260.0 L59.5,255.0 L58.6,252.9 L57.8,249.3 L56.3,246.2 L54.2,243.1 L52.1,240.0 L51.1,237.9 L52.6,236.9 L51.6,234.9 L49.6,232.3 L47.5,229.2 L46.0,226.1 L47.0,225.1 L49.0,228.7 L50.6,231.8 L51.6,232.8 L52.1,229.7 L53.2,232.8 L54.7,235.4 L56.3,233.8 L57.0,230.7 L56.3,227.6 L53.7,224.6 L50.6,221.0 L48.0,217.4 L45.4,213.3 L43.6,210.2 L43.1,206.4 L44.2,201.7 L45.9,197.9 L46.2,194.0 L44.7,189.4 L42.7,186.3 L43.9,181.7 L44.7,177.8 L46.2,175.5 L47.3,177.0 L47.8,180.1 L48.2,183.2 L49.8,184.3 L51.3,181.7 L52.4,178.6 L53.9,175.5 L57.0,172.9 L60.1,170.8 L63.2,168.5 L66.3,165.4 L68.6,162.4 L71.7,160.0 L74.8,157.4 L77.1,155.4 L80.2,156.2 L83.3,156.9 L86.4,156.2 L89.5,153.9 L92.5,151.5 L96.4,150.0 L100.0,146.5 L103.8,144.5 L110.0,144.5 L116.2,141.2 L122.5,138.0 L127.5,133.8 L131.2,128.8 L133.8,122.5 L137.7,119.0"/>
<path class="coast" d="M137.7,119.0 L140.0,115.9 L138.5,112.9 L136.9,109.0 L137.7,104.4 L140.0,101.3 L142.4,98.2 L144.7,95.1 L146.7,93.6 L147.8,97.4 L150.1,102.0 L153.2,106.7 L154.7,108.5 L155.5,105.1 L157.8,102.0 L156.3,99.7 L153.9,95.9 L153.2,92.8 L154.7,90.5 L157.0,89.7 L160.1,92.0 L163.2,92.8 L167.1,92.0 L170.1,92.0 L167.1,91.3 L164.7,89.7 L165.5,87.4 L164.0,84.3 L164.7,81.2 L167.8,78.9 L170.9,79.7 L171.7,76.6 L174.0,74.3 L176.3,75.8 L175.6,72.7 L177.1,69.6 L179.4,67.3 L181.7,68.1 L182.5,64.2 L184.0,61.1 L186.4,59.6 L188.7,61.1 L191.0,58.0 L193.3,56.0 L196.4,57.3 L199.5,58.8 L201.8,61.1 L204.1,63.4 L206.4,65.8 L208.8,67.3 L211.1,68.8 L210.3,72.7 L209.5,77.3 L211.1,74.3 L212.6,77.3 L211.8,71.9 L214.2,69.3 L217.2,68.4 L220.3,69.6 L222.6,71.2 L225.0,69.6 L227.3,71.2 L229.6,72.7 L231.1,70.4 L231.9,67.3 L228.8,66.5 L226.5,65.8 L225.0,62.7 L226.5,59.6 L227.3,57.9 L229.6,54.8 L231.2,50.9 L234.3,49.4 L235.0,46.3 L236.6,42.4 L238.9,38.6 L241.2,37.0 L243.5,38.6 L245.8,34.7 L248.2,33.2 L252.0,34.4 L256.7,33.9 L261.3,33.9 L263.6,35.0 L265.5,32.9 L267.0,31.6 L265.9,28.5 L266.4,25.4 L264.4,23.9 L261.3,23.1 L257.4,23.1 L255.1,21.1 L258.2,19.6 L262.1,18.5 L265.5,17.4 L265.9,20.8 L269.0,22.4 L272.1,24.7 L275.2,25.4 L278.3,27.3 L282.1,28.2 L285.2,30.1 L289.1,30.8 L292.9,30.1 L296.0,32.4 L299.1,33.9 L302.2,32.4 L305.3,29.3 L309.2,26.2 L313.0,25.4 L316.9,21.6 L319.5,17.4 L317.7,22.4 L314.6,26.2 L311.5,27.8 L309.2,30.1 L309.9,33.2 L312.2,35.5 L314.6,33.9 L313.8,30.8 L316.9,29.8 L318.4,32.4 L321.0,34.7 L321.5,37.8 L319.2,40.1 L317.7,43.2 L315.3,44.7 L313.0,46.3 L309.2,47.8 L307.6,50.9 L309.2,54.0 L306.8,57.9 L305.3,61.7 L302.2,65.6 L301.4,67.9 L304.5,71.0 L308.4,74.1 L312.2,77.2 L316.1,79.5 L318.0,77.5 L321.0,78.0 L321.5,80.5 L320.0,81.2 L325.0,84.2 L330.0,88.0 L333.8,91.2"/>
<path class="isl" style="fill:#ccffff" d="M508.2,211.5 L507.6,216.3 L506.0,220.6 L504.6,225.7 L503.6,226.0 L504.6,221.0 L506.2,216.0 L507.4,212.0Z"/>
<path class="isl" d="M392.4,405.3 L391.7,408.1 L394.5,407.4 L397.3,408.8 L400.7,411.6 L404.9,414.4 L409.8,415.7 L414.7,415.0 L419.5,413.7 L423.7,412.3 L427.2,411.6 L428.6,414.4 L427.9,419.2 L427.6,424.8 L427.2,429.7 L425.8,432.4 L424.4,430.4 L423.7,434.5 L422.3,438.0 L420.2,440.8 L419.5,443.6 L417.4,442.2 L416.7,439.4 L415.4,442.2 L414.0,445.7 L411.9,444.3 L410.5,447.8 L408.4,448.4 L405.6,447.1 L402.8,446.4 L401.4,443.6 L399.4,440.8 L397.3,436.6 L395.9,432.4 L396.6,429.7 L395.2,426.9 L393.8,423.4 L392.8,419.2 L391.7,415.0 L391.0,410.9 L391.5,408.0Z"/>
<path class="isl" d="M310.5,339.5 L313.3,337.8 L317.5,336.7 L321.7,336.7 L323.8,338.4 L325.9,338.1 L327.3,339.5 L325.2,340.9 L322.4,342.0 L318.9,342.5 L314.7,343.0 L311.9,342.0Z"/>
<path class="isl" d="M232.7,27.8 L234.3,24.7 L236.6,20.8 L238.9,22.4 L242.0,23.1 L245.8,21.6 L248.9,20.5 L251.3,23.1 L248.9,25.4 L246.6,27.8 L244.3,29.8 L240.4,28.8 L236.6,28.5Z"/>
<path class="isl" d="M313.8,60.2 L314.6,55.6 L316.9,53.2 L318.4,55.6 L320.0,54.0 L321.0,57.1 L320.7,60.2 L317.7,59.7 L315.5,60.7Z"/>
<path class="isl" d="M348.0,92.5 L350.0,90.0 L353.0,89.5 L354.5,91.0 L352.0,93.0 L349.5,93.8Z"/>
<path class="isl" d="M384.1,395.0 L385.5,392.9 L387.3,394.1 L387.6,397.6 L386.2,400.3 L384.5,399.4Z"/>
<path class="isl" d="M424.7,399.4 L426.8,398.5 L428.6,402.1 L430.4,405.6 L429.1,408.2 L427.4,406.5 L425.6,402.9Z"/>
<path class="isl" d="M40.3,225.1 L41.5,225.3 L44.0,229.0 L47.5,233.5 L51.3,237.3 L50.6,238.2 L46.5,234.0 L43.0,229.5Z"/>
<path class="isl" d="M440.6,344.7 L441.5,341.2 L444.1,339.4 L446.8,340.3 L445.9,342.9 L444.1,344.7 L443.8,348.2 L442.0,348.8Z"/>
<path class="coast" stroke-width="0.8" d="M155.5,99.7L158.6,102.8M158.6,99.7L155.5,102.8M163.2,89.7L166.3,92.8M169.4,78.1L172.5,81.2M174,74.3L176.3,77.3M176.3,66.5L179.4,69.6M181.7,65L184.8,66.5M182.5,59.6L184,63.4M187.9,58L189.5,61.9M228,68L231.9,72.7M231.5,67.5L228.5,72.5M148,100.5L150.5,98.5M160.5,95.5L162.5,93M166.5,85L169,86.5M172.5,72L174.5,74M179.5,64.5L181,67M192,56L193,59M309.5,30.5L313.5,34.5M313.5,30.5L310,34M303,30.5L305.5,33M306.5,28L308.5,31M300,32L301.5,34.5M296.5,30.5L298,33M315.5,40.5L318.5,42.5M309,45.5L311.5,48.5M307,50L310,52M256,20L259.5,23.5M259.5,19.5L257,23M262,18L264,21.5M274,24L276,26.5M279.5,26L281,28.5M243,35.5L245.5,38.5M238.5,40.5L241,42M233.5,48L236,50M236.5,20.5L240.5,28.5M382,36L385.5,39.5M385.5,36L382.5,39.5M383,42L386,44.5M385.5,30.5L388,32.5"/>
<ellipse class="isl" cx="60.1" cy="160.4" rx="0.5" ry="0.9" stroke-width="0.7"/>
<ellipse class="isl" cx="391.3" cy="9.5" rx="1.2" ry="0.8"/>
<ellipse class="isl" cx="391.3" cy="16" rx="1" ry="1"/>
<circle cx="351.75" cy="98" r="0.8" fill="#000"/>
<circle cx="379.8" cy="155.5" r="0.6" fill="#222"/>
<circle cx="408.2" cy="153.8" r="0.6" fill="#222"/>
<path class="coast" d="M41.5,217 L41.5,220.5"/>
<rect x="571" y="164.3" width="27.5" height="31.19999999999999" fill="#0000f0"/>
<rect x="571" y="195.5" width="27.5" height="30.900000000000006" fill="#5aafd8"/>
<rect x="571" y="226.4" width="27.5" height="30.799999999999983" fill="#ccffff"/>
<rect x="571" y="257.2" width="27.5" height="30.80000000000001" fill="#ffffff"/>
<rect x="571" y="288" width="27.5" height="31.30000000000001" fill="#d8d8d8"/>
<rect x="571" y="164.3" width="27.5" height="155.0" fill="none" stroke="#777" stroke-width="0.8"/>
<path d="M571,195.5 h27.5" stroke="#777" stroke-width="0.6"/>
<path d="M571,226.4 h27.5" stroke="#777" stroke-width="0.6"/>
<path d="M571,257.2 h27.5" stroke="#777" stroke-width="0.6"/>
<path d="M571,288 h27.5" stroke="#777" stroke-width="0.6"/>
<text x="524.5" y="151.2" font-size="9.8" textLength="120.3" lengthAdjust="spacingAndGlyphs">Average recurrence interval</text>
<text x="604.5" y="184.0" font-size="9.8" textLength="45.8" lengthAdjust="spacingAndGlyphs">&gt; 30 years</text>
<text x="604.5" y="215.0" font-size="9.8" textLength="45.8" lengthAdjust="spacingAndGlyphs">&gt; 10 years</text>
<text x="604.5" y="245.9" font-size="9.8" textLength="36" lengthAdjust="spacingAndGlyphs">&gt; 1 year</text>
<text x="604.5" y="276.7" font-size="9.8" textLength="36" lengthAdjust="spacingAndGlyphs">&lt; 1 year</text>
<text x="604.5" y="307.8" font-size="9.8" textLength="34" lengthAdjust="spacingAndGlyphs">No Data</text>
<text x="127.5" y="398.7" font-size="12" textLength="193.2" lengthAdjust="spacingAndGlyphs">Average recurrence interval for daily</text>
<text x="116" y="417" font-size="12" textLength="216.5" lengthAdjust="spacingAndGlyphs">rainfall: 24 hours to 9am on 05 Sep 2007</text>
<text x="140.2" y="430" font-size="9.6" textLength="167.4" lengthAdjust="spacingAndGlyphs">Product of the National Climate Centre</text>
<text x="4.4" y="450.6" font-size="8" textLength="77.2" lengthAdjust="spacingAndGlyphs">http://www.bom.gov.au</text>
<text x="0.7" y="465" font-size="8" textLength="238.3" lengthAdjust="spacingAndGlyphs">© Commonwealth of Australia 2010, Australian Bureau of Meteorology</text>
<text x="615.6" y="465.3" font-size="8" textLength="64" lengthAdjust="spacingAndGlyphs">Issued: 06/08/2010</text>
<path d="M0.5,455.5 V0.5 H679.5 V455.5 H0.5" fill="none" stroke="#707070" stroke-width="1"/>
<text class="serif" x="14.5" y="70.75" font-size="11.8" textLength="114.2" lengthAdjust="spacingAndGlyphs">Australian Government</text>
<path d="M14,76.3 H128.3" stroke="#222" stroke-width="0.9"/>
<text class="serif" x="21.25" y="88.75" font-size="10.8" textLength="100.4" lengthAdjust="spacingAndGlyphs">Bureau of Meteorology</text>
<g id="crest">
<path d="M71.30,13.70 L71.89,15.38 L73.57,14.79 L72.62,16.30 L74.13,17.25 L72.36,17.44 L72.56,19.21 L71.30,17.95 L70.04,19.21 L70.24,17.44 L68.47,17.25 L69.98,16.30 L69.03,14.79 L70.71,15.38Z" fill="#000"/>
<rect x="68" y="19.9" width="6.5" height="1.2" fill="#222"/>
<path d="M47.1,28.6l0.9,0.2M50.1,31.4l0.8,0.6M49.9,32.8l-0.7,0.3M49.1,31.3l-0.3,1.0M49.7,28.7l0.7,0.1M52.3,27.6l-0.2,0.8M48.6,29.0l-1.0,0.4M48.9,32.8l0.3,1.1M47.8,28.1l-0.6,1.0M51.4,31.8l-0.6,0.8M49.8,29.9l0.1,0.6M53.9,31.1l0.2,0.6M48.6,26.8l1.1,0.4M48.8,31.4l1.3,0.1M51.0,30.9l0.9,0.7M48.4,28.4l0.5,0.0M49.6,25.6l0.5,0.4M53.1,30.6l1.0,0.6M54.2,31.2l-1.1,0.7M52.1,26.8l0.5,0.2M51.0,32.4l-1.1,0.5M48.7,27.5l-0.8,0.2M50.1,32.2l-0.1,0.9M51.3,25.9l-0.7,0.6M50.3,29.3l-0.0,1.1M50.3,28.6l-1.0,0.2M54.0,32.5l-0.2,1.2M47.5,27.7l0.4,0.4M48.4,32.5l0.1,1.3M50.2,28.4l0.6,0.4M47.9,33.1l-0.3,0.8M42.8,37.5l0.8,0.3M49.5,37.1l1.0,0.2M50.4,37.6l-0.5,0.2M53.3,35.6l-0.2,1.2M45.7,33.7l0.4,0.4M44.9,34.8l-0.5,0.5M48.7,34.0l0.7,0.0M43.6,37.7l0.0,1.2M51.3,36.7l0.3,0.5M51.7,34.5l1.1,0.3M53.4,36.9l0.5,0.5M48.1,33.9l0.9,0.9M54.7,36.2l-0.7,0.1M46.8,33.0l0.1,0.9M44.9,35.9l0.4,0.4M47.4,33.2l0.4,0.6M44.1,36.0l-1.0,0.6M51.0,37.0l0.6,0.1M50.9,35.8l-0.9,0.7M43.1,37.3l0.7,0.2M54.7,35.9l0.1,1.0M45.5,37.3l-0.1,0.5M46.0,36.0l0.1,0.6M54.2,33.1l-1.1,0.7M48.0,34.6l-0.7,0.1M49.7,33.8l-0.6,0.1M48.5,33.1l0.0,0.9M46.1,33.8l0.6,1.0M46.0,35.2l-1.0,0.0M46.9,35.5l0.6,0.1M45.5,34.5l0.7,0.4M42.9,37.2l-0.7,0.7M92.3,26.8l-0.9,0.9M90.6,29.7l-0.1,0.8M90.2,32.1l0.9,0.8M94.5,27.4l-0.1,0.8M90.7,32.7l-0.0,1.0M95.3,31.8l1.1,0.1M92.2,28.7l-0.5,0.4M95.9,29.6l0.6,0.3M93.6,30.1l0.9,0.2M93.2,27.2l-0.2,0.5M93.7,31.9l0.5,0.5M96.2,30.2l0.9,0.1M93.9,27.5l-0.6,1.1M91.0,31.3l0.9,0.7M90.9,32.5l0.6,0.4M90.2,32.8l0.5,0.1M96.0,30.6l-0.4,0.7M91.5,26.7l0.7,0.0M91.3,32.6l-0.7,0.1M89.0,32.2l-0.9,0.9M96.2,29.4l-0.5,0.6M90.5,27.6l-0.6,0.1M94.7,29.3l0.4,0.7M90.1,30.7l0.5,0.1M95.6,32.9l0.6,0.2M92.5,30.2l0.6,0.6M95.3,29.8l-0.6,0.4M95.6,29.0l0.4,1.2M93.7,32.9l0.1,1.2M95.2,32.2l0.4,0.5M95.4,27.8l-1.0,0.8M90.7,35.5l0.6,0.4M95.5,37.4l0.8,0.0M96.5,34.3l0.9,0.7M94.9,33.4l0.3,0.9M96.0,33.6l-0.5,0.7M91.9,36.9l0.3,1.2M90.5,38.0l1.2,0.0M93.3,38.6l-0.8,0.3M96.0,39.2l-0.3,0.7M94.3,34.0l-0.1,1.2M97.8,34.5l-1.0,0.5M90.3,34.5l-0.0,0.8M95.0,38.2l-0.5,0.3M93.3,37.5l0.1,0.5M95.7,36.3l-0.8,0.8M93.7,34.2l0.6,0.2M93.4,33.6l-0.0,0.5M97.7,36.5l-0.0,0.8M100.0,39.2l-1.0,0.8M90.0,39.1l-0.5,0.3M94.3,39.3l0.6,0.7M92.0,33.3l1.1,0.6M96.5,39.1l-0.5,0.4M94.6,37.3l-0.9,0.4M95.3,39.0l-1.0,0.0M92.9,38.4l-1.0,0.0M92.5,38.2l0.9,0.6M88.6,38.6l-0.5,1.2M95.3,37.5l0.5,0.0M89.9,37.2l-0.0,1.2M88.3,33.0l0.7,0.3M90.6,37.2l1.1,0.5M91.0,34.0l-0.5,1.1M97.8,35.7l1.0,0.0M91.1,39.1l-0.1,0.8M90.5,37.1l-0.5,1.0M90.2,35.1l1.2,0.2M97.8,37.9l-1.0,0.5M93.8,38.0l0.4,0.4M90.9,33.3l-0.7,0.7M98.6,37.8l-0.1,0.8M97.9,36.6l-0.5,1.1M90.7,39.0l0.5,0.5M92.1,39.0l0.9,0.8M89.0,39.2l0.6,0.0M89.8,33.2l-0.6,0.8M96.7,38.0l-0.2,0.8M44.5,45.1l1.2,0.1M54.2,46.1l1.1,0.3M46.3,46.5l0.7,0.0M50.6,52.2l-0.6,0.7M45.9,48.7l-0.6,0.4M60.0,46.0l-0.5,0.7M49.1,47.5l-0.5,0.2M58.9,42.8l0.8,0.9M46.8,48.3l-0.8,0.8M54.5,46.9l1.0,0.6M54.7,51.8l0.2,1.1M53.2,44.1l-0.6,0.2M58.1,44.4l0.5,0.5M52.2,44.5l1.1,0.7M57.2,51.7l0.8,0.6M44.5,45.1l0.8,0.1M57.1,51.2l-0.4,0.8M47.1,47.8l-0.3,0.8M55.0,54.1l-0.5,1.0M59.9,49.0l-0.2,0.9M57.8,49.0l-0.7,0.1M49.1,43.2l0.2,0.5M49.0,45.8l-0.9,0.9M49.8,45.2l-0.9,0.7M57.6,48.4l-0.1,0.6M47.4,47.2l0.1,0.6M47.7,45.6l0.1,0.8M54.3,50.7l-1.2,0.3M59.3,52.3l-0.9,0.5M47.1,43.8l0.8,0.8M52.3,51.8l-0.9,0.3M47.4,45.4l0.0,0.5M51.1,44.3l0.0,0.9M54.8,53.0l0.3,1.2M55.1,54.1l-0.9,0.1M49.3,48.4l-0.5,0.4M50.0,48.8l-0.0,1.3M54.6,52.4l0.4,0.6M58.9,49.3l0.3,0.4M51.0,52.0l0.4,0.3M57.1,49.5l0.5,0.7M53.1,54.0l0.8,0.0M51.3,47.7l-0.3,0.6M57.6,43.5l-0.4,0.5M58.4,48.6l0.4,0.9M50.6,51.0l-0.6,0.5M54.4,50.4l0.4,1.1M53.0,46.2l-1.1,0.1M53.6,46.4l-0.8,0.3M57.4,46.0l0.6,0.6M55.0,48.3l0.8,0.8M57.1,48.2l-0.9,0.6M58.9,49.0l-0.2,0.6M49.2,49.6l-0.0,0.6M48.9,49.0l1.3,0.1M46.2,44.8l0.9,0.2M49.8,48.1l-1.3,0.1M59.9,51.0l-0.3,1.1M44.5,46.5l0.8,0.3M45.6,45.5l-0.3,0.4M55.8,44.9l-0.7,0.2M58.9,44.2l1.2,0.4M58.1,50.4l0.6,1.0M51.3,50.4l0.4,0.3M55.7,49.4l-0.7,0.3M50.1,44.4l-0.7,0.4M85.4,48.6l-0.6,0.2M86.2,48.5l0.5,0.5M87.6,54.7l-0.6,0.4M86.3,49.6l0.9,0.6M95.0,45.0l0.9,0.3M91.2,45.9l-0.4,1.0M89.6,51.5l-0.6,0.4M97.8,45.8l-0.7,0.4M90.3,48.9l-0.7,0.9M89.2,51.9l-1.2,0.5M91.2,48.9l-0.1,0.5M85.7,43.8l-0.4,0.3M84.2,51.2l1.0,0.1M84.7,48.7l0.4,0.5M89.9,53.0l0.4,1.2M96.1,46.7l0.4,0.7M98.9,45.6l-0.3,0.7M91.8,43.4l-0.0,0.5M87.2,51.0l-0.2,1.2M93.4,45.6l0.3,1.2M91.5,45.9l-0.1,0.6M84.7,44.1l0.2,0.7M86.8,43.6l-0.9,0.5M92.5,50.6l-0.5,0.7M92.1,50.2l0.4,0.6M86.4,48.9l-0.1,0.5M88.7,53.3l-0.2,0.9M87.5,54.8l-0.5,0.4M90.2,43.3l0.2,1.1M95.4,44.4l0.5,0.9M89.1,48.2l-0.5,0.6M89.3,49.4l0.6,1.0M90.3,44.8l0.9,0.4M99.3,45.1l-0.5,0.1M83.3,49.6l-1.1,0.3M91.7,43.7l0.3,0.9M97.0,48.9l-1.0,0.3M98.0,47.8l0.6,0.7M91.3,44.9l-0.4,0.9M89.7,52.3l-0.3,0.4M94.2,45.0l-0.1,0.7M92.6,47.6l1.0,0.5M84.4,43.8l-0.1,1.2M88.1,51.4l0.6,0.4M92.7,46.9l0.2,0.5M93.4,45.6l-1.2,0.3M91.0,52.4l0.7,0.4M87.6,49.5l-0.1,0.8M89.6,43.3l-0.7,0.4M86.8,44.9l0.4,0.4M94.1,46.8l-0.3,0.5M87.2,52.9l0.2,1.2M96.6,44.5l-0.5,0.6M91.3,45.3l1.0,0.4M86.2,53.4l-0.0,0.9M87.2,52.1l-0.5,0.8M87.9,47.4l1.0,0.6M88.1,50.8l-0.2,0.8M91.3,46.2l0.4,0.6M84.7,51.5l0.4,1.2M97.6,44.2l1.0,0.1M94.1,46.9l-0.5,0.9M86.8,53.1l-0.3,0.6M83.2,43.0l0.6,0.4M89.2,43.0l-0.3,0.6M95.0,45.7l-0.4,0.7M96.1,46.1l-0.9,0.4M83.3,45.6l-0.5,0.4M84.0,51.2l-0.8,0.8M84.7,52.0l-0.7,0.9M93.7,49.3l0.8,0.1M89.7,45.0l1.0,0.4M94.2,45.5l-0.0,0.9M87.7,53.6l-0.2,0.8M97.0,43.9l0.3,0.6M83.6,46.0l-0.5,0.7M84.5,46.6l0.3,0.6M84.4,48.6l0.8,0.5M93.9,45.6l0.5,0.2M77.1,44.0l-0.6,0.4M68.5,45.5l-0.6,0.3M81.7,45.1l0.7,0.4M62.1,42.1l0.9,0.6M78.1,44.7l-0.4,0.8M69.7,44.1l-0.6,1.0M80.8,42.9l0.2,0.9M68.0,43.1l0.5,0.7M68.6,45.7l-0.1,0.9M69.1,42.6l-0.9,0.3M62.6,47.6l0.9,0.3M65.2,45.6l-0.0,1.0M61.8,44.5l0.2,1.2M62.3,47.4l1.1,0.6M72.9,47.0l-0.4,0.4M65.4,44.3l-0.2,0.6M66.9,46.5l-0.9,0.3M79.0,42.6l-0.9,0.9M65.9,43.1l-0.8,0.5M62.6,41.9l-0.5,0.4M81.8,41.9l0.8,0.4M80.1,47.2l1.0,0.6M75.6,44.4l1.0,0.6M61.7,44.0l-0.9,0.3M61.0,42.9l0.1,1.0M68.9,44.2l-0.2,0.7M66.3,43.6l0.6,0.7M74.6,44.2l-1.0,0.7M81.6,46.4l-0.8,0.7M71.7,46.1l-0.1,0.8M61.4,44.1l-0.9,0.0M68.4,43.4l0.3,0.5M60.2,47.6l0.2,0.9M67.0,42.9l0.4,0.6M69.9,47.6l0.1,1.2M66.3,43.5l0.6,0.4M76.2,43.3l0.8,0.6M79.9,46.1l-0.9,0.9M80.1,44.1l0.8,0.5M67.8,42.2l1.0,0.1M65.9,44.9l-0.9,0.2M76.7,44.0l0.5,0.3M67.6,46.8l-0.7,0.9M82.5,44.8l-0.1,1.2M63.0,41.9l-0.5,1.0M68.3,48.4l-0.4,0.4M60.6,42.7l-0.0,0.9M64.2,48.1l0.6,0.3M77.0,48.0l1.1,0.1M65.6,48.4l-0.3,0.7M78.4,44.9l-0.6,0.2M69.2,47.6l-0.2,0.8M65.2,43.5l0.1,0.7M66.9,48.5l-0.1,0.6M79.9,47.6l-0.8,0.8M66.5,44.0l-0.6,0.2M75.7,45.8l-0.3,1.2M64.8,47.7l-0.9,0.8M66.8,42.0l-0.5,0.0M75.9,42.1l0.6,0.6M67.3,47.7l0.0,0.6M63.4,46.7l0.7,0.3M71.4,48.0l1.0,0.8M80.3,46.7l0.6,0.4M61.6,42.1l0.3,0.9M75.0,45.4l-0.7,1.1M80.1,46.6l0.5,0.7M82.4,44.4l0.2,0.6M68.7,43.4l1.1,0.4M78.0,47.9l-0.4,0.6M74.9,45.5l-0.5,0.0M77.2,47.5l-0.4,1.2M68.7,46.6l-0.1,1.0M66.1,47.9l-0.6,0.7M71.0,43.3l-0.9,0.2M80.6,47.6l0.4,1.1M78.8,42.6l0.4,0.4M68.2,47.2l0.1,0.6M68.4,45.3l0.3,0.7M68.8,41.9l-0.1,0.5M64.1,46.6l0.4,0.6" fill="none" stroke="#111" stroke-width="0.5"/>
<path d="M49.3,24.9h0.01M49.0,31.0h0.01M51.4,27.8h0.01M52.5,29.6h0.01M48.6,27.2h0.01M51.2,31.9h0.01M50.0,26.9h0.01M48.5,28.1h0.01M50.1,27.0h0.01M50.9,29.4h0.01M47.0,32.0h0.01M49.6,23.7h0.01M51.0,32.8h0.01M49.6,25.1h0.01M53.4,31.3h0.01M48.9,26.0h0.01M54.5,32.9h0.01M51.8,32.1h0.01M50.6,29.7h0.01M47.2,29.8h0.01M49.3,31.1h0.01M49.9,27.3h0.01M49.0,25.8h0.01M50.4,29.0h0.01M50.5,30.4h0.01M49.3,28.4h0.01M51.3,30.7h0.01M52.2,30.9h0.01M47.8,30.3h0.01M47.7,31.9h0.01M51.5,33.1h0.01M45.6,33.9h0.01M47.7,33.4h0.01M42.5,37.3h0.01M44.7,35.8h0.01M47.3,35.9h0.01M54.8,35.0h0.01M49.7,36.1h0.01M50.7,37.2h0.01M47.2,34.9h0.01M44.2,37.2h0.01M42.9,37.8h0.01M50.3,37.3h0.01M52.8,36.4h0.01M46.9,33.6h0.01M49.4,36.6h0.01M48.7,36.1h0.01M51.6,34.2h0.01M52.0,36.6h0.01M50.8,37.0h0.01M53.6,34.2h0.01M52.7,36.0h0.01M51.2,34.3h0.01M53.0,33.7h0.01M52.9,34.7h0.01M52.6,36.7h0.01M54.2,36.2h0.01M90.6,28.9h0.01M91.7,27.7h0.01M95.7,28.0h0.01M95.9,31.3h0.01M92.7,30.0h0.01M94.3,29.6h0.01M90.9,27.9h0.01M91.2,27.5h0.01M90.1,31.1h0.01M92.5,25.4h0.01M91.8,29.8h0.01M91.6,32.0h0.01M94.4,33.0h0.01M91.4,31.3h0.01M92.3,27.0h0.01M91.8,31.2h0.01M94.5,32.2h0.01M90.4,28.0h0.01M94.9,30.5h0.01M92.9,26.6h0.01M93.5,29.9h0.01M93.0,27.0h0.01M92.6,25.7h0.01M90.0,32.7h0.01M89.3,37.1h0.01M91.5,35.1h0.01M90.0,33.1h0.01M89.4,36.3h0.01M89.6,39.4h0.01M94.0,33.4h0.01M92.8,39.1h0.01M89.5,34.7h0.01M95.5,36.7h0.01M91.8,35.9h0.01M96.0,33.6h0.01M98.7,39.8h0.01M88.8,35.4h0.01M89.7,34.5h0.01M90.8,37.0h0.01M95.0,35.4h0.01M93.5,39.4h0.01M91.0,33.4h0.01M97.3,39.4h0.01M95.9,37.7h0.01M98.5,37.7h0.01M93.5,37.9h0.01M91.8,34.4h0.01M57.6,52.7h0.01M57.5,50.4h0.01M49.3,46.5h0.01M51.8,53.1h0.01M51.6,48.6h0.01M55.4,52.3h0.01M51.8,47.2h0.01M46.0,46.3h0.01M56.0,43.8h0.01M44.4,47.3h0.01M50.0,51.8h0.01M50.5,49.7h0.01M50.3,45.4h0.01M58.8,52.2h0.01M58.3,51.0h0.01M50.9,46.4h0.01M57.0,51.4h0.01M49.7,48.6h0.01M55.8,48.9h0.01M55.2,47.4h0.01M50.2,47.8h0.01M52.3,45.2h0.01M54.2,48.4h0.01M49.0,50.5h0.01M57.9,46.9h0.01M48.9,44.4h0.01M57.1,44.6h0.01M53.8,52.3h0.01M59.0,52.4h0.01M58.1,48.3h0.01M54.3,42.9h0.01M54.1,46.7h0.01M50.6,47.8h0.01M57.8,46.2h0.01M53.3,50.4h0.01M53.8,50.7h0.01M59.3,50.1h0.01M54.1,51.2h0.01M55.1,45.2h0.01M56.8,53.9h0.01M48.4,47.9h0.01M59.8,43.2h0.01M43.2,44.0h0.01M53.5,54.2h0.01M55.8,45.5h0.01M56.8,51.4h0.01M56.0,43.6h0.01M55.6,48.3h0.01M57.8,46.7h0.01M55.2,50.0h0.01M53.4,52.7h0.01M57.5,53.3h0.01M57.4,51.1h0.01M48.9,43.6h0.01M57.3,45.0h0.01M59.7,45.4h0.01M46.8,49.7h0.01M46.1,44.8h0.01M49.4,43.8h0.01M57.1,44.5h0.01M58.5,48.6h0.01M56.7,52.7h0.01M58.6,48.2h0.01M59.3,43.3h0.01M49.9,44.0h0.01M47.3,49.6h0.01M47.2,46.9h0.01M55.6,50.6h0.01M43.5,44.3h0.01M84.2,46.1h0.01M85.8,47.9h0.01M86.0,43.3h0.01M85.4,47.1h0.01M97.6,46.5h0.01M92.6,49.0h0.01M89.6,44.2h0.01M97.6,44.3h0.01M95.6,44.6h0.01M87.5,46.3h0.01M84.6,49.9h0.01M84.4,45.3h0.01M96.9,49.0h0.01M90.8,52.3h0.01M98.5,44.1h0.01M92.8,48.7h0.01M92.5,47.7h0.01M92.7,43.6h0.01M88.2,53.0h0.01M91.6,49.0h0.01M89.3,47.0h0.01M88.6,54.3h0.01M90.2,50.3h0.01M88.5,49.1h0.01M85.5,46.5h0.01M87.8,53.0h0.01M93.8,49.1h0.01M83.6,42.7h0.01M88.0,53.7h0.01M87.8,50.0h0.01M86.8,47.4h0.01M86.4,46.4h0.01M99.3,45.1h0.01M87.1,53.7h0.01M88.9,45.6h0.01M87.4,43.6h0.01M90.4,43.2h0.01M90.0,48.9h0.01M87.1,49.3h0.01M95.8,44.6h0.01M93.0,48.3h0.01M83.8,42.6h0.01M95.6,43.5h0.01M93.8,50.3h0.01M87.7,44.8h0.01M85.4,52.3h0.01M60.9,45.6h0.01M78.9,46.5h0.01M73.4,42.3h0.01M63.8,44.8h0.01M60.1,47.4h0.01M82.3,47.9h0.01M82.4,48.2h0.01M78.7,42.2h0.01M74.0,43.8h0.01M81.9,45.0h0.01M66.9,44.1h0.01M60.6,43.1h0.01M70.3,42.4h0.01M65.8,45.1h0.01M72.7,46.6h0.01M62.6,48.4h0.01M80.1,45.6h0.01M80.0,42.9h0.01M67.9,46.9h0.01M76.6,42.1h0.01M62.3,45.5h0.01M62.6,48.0h0.01M72.7,43.7h0.01M68.8,42.8h0.01M72.4,46.4h0.01M69.0,47.6h0.01M60.5,44.9h0.01M61.0,42.8h0.01M72.1,48.2h0.01M60.8,45.6h0.01M80.1,47.0h0.01M76.7,45.5h0.01M67.8,48.0h0.01M61.8,43.0h0.01M82.7,44.2h0.01M73.8,42.3h0.01M80.1,46.1h0.01M64.9,44.0h0.01M74.9,44.5h0.01M67.7,45.1h0.01M82.7,42.2h0.01M77.6,42.4h0.01M69.7,45.4h0.01M72.8,46.2h0.01M77.8,43.9h0.01M76.9,42.2h0.01M81.1,48.1h0.01M64.7,46.9h0.01M64.2,47.6h0.01M81.0,42.8h0.01M62.2,42.9h0.01M62.1,44.1h0.01M76.5,47.7h0.01M60.8,43.4h0.01M62.4,41.9h0.01M69.9,43.0h0.01M68.3,41.9h0.01M83.0,41.8h0.01M81.3,43.5h0.01M65.4,46.0h0.01M75.6,44.0h0.01M72.5,43.3h0.01M72.1,45.3h0.01M65.5,43.0h0.01M70.6,46.1h0.01M69.1,48.5h0.01M70.3,45.0h0.01M77.5,42.8h0.01M79.2,42.4h0.01" fill="none" stroke="#222" stroke-width="0.8" stroke-linecap="round"/>
<path d="M43,40.9 H99.6 Q100.8,40.6 100.4,39.2 Q99.6,38.2 98.6,39" fill="none" stroke="#000" stroke-width="1.1"/>
<path d="M65.2,24.2 H77.4 V32.5 Q77.2,36.2 71.3,38.8 Q65.4,36.2 65.2,32.5 Z" fill="#fff" stroke="#000" stroke-width="0.8"/>
<path d="M65.2,28.6 H77.4 M65.5,33.2 H77.1 M69.3,24.2 V33.2 M73.3,24.2 V33.2 M71.3,33.2 V38.5" stroke="#000" stroke-width="0.6" fill="none"/>
<path d="M66.2,25.2h2.2v2.4h-2.2z M70.3,25.4h2v2.2h-2z M74.3,25.2h2.1v2.4h-2.1z M66.4,29.6h2v2.6h-2z M70.2,29.8h2.2v2.4h-2.2z M74.4,29.6h2v2.6h-2z M67.5,34.2h2.6v2h-2.6z M72.5,34.2h2.6v2h-2.6z" fill="#222"/>
<path d="M61.3,17.6 L62.3,19.2 L63.6,19.0 L64.5,17.3 L64.9,19.4 L66.2,21.0 L65.9,21.7 L64.4,21.9 L63.9,23.5 L64.0,25.5 L65.6,27.2 L65.4,27.9 L63.8,27.2 L63.5,29.5 L63.0,31.5 L63.5,33.5 L62.6,36.5 L62.3,39.5 L64.2,40.0 L64.2,40.8 L59.5,40.8 L60.0,37.0 L59.0,36.0 L58.6,39.6 L59.6,40.0 L59.6,40.8 L47,40.8 L43,40.2 L41.8,39.3 L43.5,39.0 L48,39.4 L52,38.8 L55,37.2 L54.8,34 L55.2,31.5 L56.8,28.8 L58.8,26 L60.6,23.5 L61.4,21 L61.0,19 Z" fill="#000"/>
<path d="M78.2,20.5 L79.2,19.5 L80.3,19.2 L81.2,19.8 L81.5,21.5 L81.4,24 L81.6,26.3 L83,27.2 L86,27 L88.5,28 L90.2,30 L91,32.5 L90.8,34 L89.5,33.2 L88,34.2 L86.9,34.3 L86.8,38 L87.4,40.2 L88.5,40.8 L85.5,40.8 L85.9,38 L85.6,34.5 L84.3,34.3 L84.2,38 L84.6,40.8 L82,40.8 L83.2,39.8 L83.1,34 L81.5,32.8 L80,30.5 L79.2,27.8 L78.9,25 L79.3,22.5 L79.4,21 Z" fill="#000"/>
<rect x="59.8" y="49" width="23" height="3.4" fill="#fff" stroke="#000" stroke-width="0.7"/>
<text x="71.3" y="51.7" font-size="2.8" text-anchor="middle" textLength="19" lengthAdjust="spacingAndGlyphs" style="font-family:'Liberation Serif',serif;font-weight:bold;stroke-width:0.15">AUSTRALIA</text>
<path d="M68.2,52.6 h6 v2.4 l-1.2,1.4 h-3.6 l-1.2,-1.4 z" fill="#111"/>
<path d="M64,55.5 L68.4,54 M78.6,55.5 L74.2,54" stroke="#222" stroke-width="0.6"/>
</g>
</svg></body></html>
